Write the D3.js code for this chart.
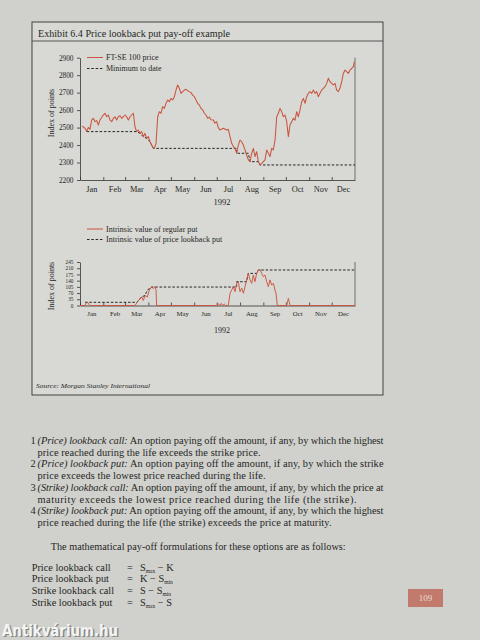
<!DOCTYPE html>
<html><head><meta charset="utf-8">
<script src="https://cdn.jsdelivr.net/npm/d3@7"></script>
<style>
html,body{margin:0;padding:0;background:#d0d1cc;}
svg{display:block;}
</style></head><body>
<svg id="c" width="480" height="640"></svg>
<script>
// ---------- data ----------
const months = ["Jan","Feb","Mar","Apr","May","Jun","Jul","Aug","Sep","Oct","Nov","Dec"];
const yearLabel = "1992";
const priceTicks = [2200,2300,2400,2500,2600,2700,2800,2900];
const putTicks = [0,35,70,105,140,175,210,245];

// FT-SE 100 price: day of year, index value
const priceDays = [3.1,6.7,8.9,11.1,13.3,15.5,17.7,20,22.2,24.4,26.6,31,33.3,35.5,37.7,40,42.2,44.4,46.6,48.8,51,53.2,55.5,57.7,59.9,62.1,64.3,66.6,68.8,71,73.2,75.4,77.6,79.9,82.1,84.3,86.5,88.7,90.9,93.2,95.4,97.6,99.8,101.2,103.4,105.6,107.8,110,112.2,114.5,116.7,118.9,121.1,123.3,125.6,127.8,130,132.2,134.4,136.7,138.9,141.1,143.3,145.5,147.7,150,152.2,154.4,156.6,158.8,161,163.3,165.5,167.7,169.9,172.1,174.4,177.5,179.5,181.9,184,186.3,190.8,195.2,197.4,199.7,201.9,204.1,206.3,208.5,210.7,213,215.2,217.4,219.6,221.8,224.1,226.3,228.5,230.7,232.9,235.1,237.4,239.6,241.8,244,246.2,248.5,250.7,252.9,255.1,257.3,259.6,261.8,264,266.2,268.4,270.7,272.9,275.1,277.3,279.5,281.8,284,286.2,288.4,290.6,292.8,295.1,297.3,299.5,301.7,303.9,306.1,308.4,310.6,312.8,315,317.2,319.4,321.7,323.9,326.1,328.3,330.5,332.8,335,337.2,339.4,341.6,343.8,346,348.3,350.5,352.7,354.9,357.1,359.4,361.6,363.8,365.1];
const priceValues = [2509,2496,2477,2501,2490,2543,2553,2534,2540,2515,2543,2572,2582,2562,2572,2543,2534,2553,2562,2543,2562,2568,2553,2562,2572,2562,2543,2562,2572,2582,2505,2477,2486,2467,2477,2448,2467,2438,2448,2419,2400,2381,2391,2410,2562,2591,2582,2620,2610,2639,2658,2648,2667,2658,2677,2715,2744,2725,2696,2706,2715,2719,2711,2706,2700,2686,2677,2658,2639,2629,2610,2601,2582,2572,2553,2560,2545,2543,2525,2534,2500,2486,2496,2486,2490,2448,2410,2391,2381,2353,2400,2429,2419,2400,2372,2343,2315,2305,2353,2381,2334,2362,2305,2286,2295,2305,2315,2372,2353,2334,2381,2372,2429,2562,2582,2610,2591,2562,2572,2534,2448,2515,2534,2553,2543,2591,2562,2601,2648,2667,2639,2677,2696,2706,2696,2715,2696,2706,2677,2696,2715,2725,2734,2753,2782,2763,2753,2744,2753,2715,2706,2725,2763,2810,2829,2820,2810,2829,2839,2849,2877];

// Minimum to date
const minDays   = [8.9,75.4,79.9,84.3,88.7,93.2,95.4,97.6,208.5,208.5,224.1,226.3,237.4,239.6,366];
const minValues = [2477,2477,2467,2448,2438,2419,2400,2381,2381,2353,2353,2305,2305,2286,2286];

// Intrinsic value of regular put
const putDays   = [0,6.7,8.2,9.8,11.5,13.3,73.2,77.6,82.1,84.3,86.5,89.6,92.3,95.4,97.6,99.8,101.2,102,182,184,186,188,190,192,194,197.4,199.7,201.9,204.1,206.3,208.5,210.7,213,215.2,217.4,219.6,221.8,224,226.3,228.5,230.7,232.9,235.1,237.4,239.6,241.8,244,246.2,248.5,250.7,252.9,255.1,257.3,259.6,260.9,262.6,275.1,277.3,279.5,366];
const putValues = [0,0,12,20,8,0,0,27,49,28,56,48,87,106,95,106,88,0,0,10,0,12,0,8,0,0,69,87,106,78,125,134,78,97,69,106,144,181,144,125,172,134,181,200,203,181,162,172,134,106,144,115,125,87,69,0,0,40,0,0];

// Intrinsic value of price lookback put
const lookDays   = [6.7,75.4,77.6,82.1,86.5,89.6,95.4,208.5,208.5,221.8,224,235.1,237.4,366];
const lookValues = [18,18,27,49,56,87,104,104,134,134,181,181,200,200];

// ---------- drawing ----------
const svg = d3.select("#c");
const red = "#c9553f", ink = "#262626";
const serif = "'Liberation Serif','DejaVu Serif',serif";
const base = new Date(1992,0,1).getTime();
const toDate = d => new Date(base + d*864e5);

// exhibit box
svg.append("rect").attr("x",32).attr("y",22).attr("width",351).attr("height",373)
  .attr("fill","#d8d9d4").attr("stroke","#333").attr("stroke-width",0.9);
svg.append("line").attr("x1",32).attr("x2",383).attr("y1",41).attr("y2",41)
  .attr("stroke","#555").attr("stroke-width",1);
svg.append("text").attr("x",38).attr("y",36.5).attr("font-family",serif).attr("font-size",10.5)
  .attr("fill",ink).attr("textLength",192).attr("lengthAdjust","spacingAndGlyphs")
  .text("Exhibit 6.4  Price lookback put pay-off example");

const x = d3.scaleTime().domain([new Date(1992,0,1), new Date(1993,0,1)]).range([80,355]);
const monthStarts = d3.timeMonth.range(new Date(1992,0,1), new Date(1993,0,1));
const monthMids = months.map((m,i) => new Date(1992,i,16));

function drawPanel(cfg){
  const g = svg.append("g");
  const y = d3.scaleLinear().domain(cfg.domain).range(cfg.range);
  // y axis
  const ya = g.append("g").attr("transform","translate(80,0)")
    .call(d3.axisLeft(y).tickValues(cfg.ticks).tickSize(3).tickSizeOuter(0).tickFormat(d3.format("d")));
  ya.selectAll("text").attr("font-family",serif).attr("font-size",cfg.tickFont).attr("fill",ink).attr("dx",-0.5);
  ya.selectAll("line,path").attr("stroke","#333").attr("stroke-width",0.8);
  // x axis ticks
  const xa = g.append("g").attr("transform",`translate(0,${cfg.range[0]})`)
    .call(d3.axisBottom(x).tickValues(monthStarts).tickSize(-3).tickSizeOuter(0).tickFormat(""));
  xa.selectAll("line,path").attr("stroke","#333").attr("stroke-width",0.8);
  // month labels
  const xl = g.append("g").attr("transform",`translate(0,${cfg.range[0]})`)
    .call(d3.axisBottom(x).tickValues(monthMids).tickSize(0).tickPadding(cfg.labPad).tickFormat(d => months[d.getMonth()]));
  xl.select(".domain").remove();
  xl.selectAll("text").attr("font-family",serif).attr("font-size",cfg.monFont).attr("fill",ink);
  // right frame line
  g.append("line").attr("x1",355).attr("x2",355).attr("y1",cfg.range[1]).attr("y2",cfg.range[0])
    .attr("stroke","#444").attr("stroke-width",0.7);
  // year
  g.append("text").attr("x",222).attr("y",cfg.yearY).attr("text-anchor","middle")
    .attr("font-family",serif).attr("font-size",cfg.yearFont).attr("fill",ink).text(yearLabel);
  // y title
  g.append("text").attr("transform",`translate(${cfg.titleX},${cfg.titleY}) rotate(-90)`)
    .attr("text-anchor","middle").attr("font-family",serif).attr("font-size",8).attr("fill",ink)
    .text("Index of points");
  // lines
  const line = d3.line().x(d => x(toDate(d[0]))).y(d => y(d[1]));
  g.append("path").datum(d3.zip(cfg.dashDays, cfg.dashValues)).attr("d",line)
    .attr("fill","none").attr("stroke","#111").attr("stroke-width",0.9).attr("stroke-dasharray","2.5,1.8");
  g.append("path").datum(d3.zip(cfg.solidDays, cfg.solidValues)).attr("d",line)
    .attr("fill","none").attr("stroke",red).attr("stroke-width",cfg.lineW).attr("stroke-linejoin","round");
  // legend
  const lg = g.append("g");
  lg.append("line").attr("x1",87).attr("x2",103).attr("y1",cfg.legY[0]).attr("y2",cfg.legY[0])
    .attr("stroke",red).attr("stroke-width",1);
  lg.append("line").attr("x1",87).attr("x2",103).attr("y1",cfg.legY[1]).attr("y2",cfg.legY[1])
    .attr("stroke","#111").attr("stroke-width",0.9).attr("stroke-dasharray","2.5,1.8");
  cfg.legText.forEach((t,i) => lg.append("text").attr("x",106).attr("y",cfg.legY[i]+2.8)
    .attr("font-family",serif).attr("font-size",8).attr("fill",ink).text(t));
}

drawPanel({domain:[2200,2900], range:[180,57.7], ticks:priceTicks, tickFont:7.3, monFont:8.3, labPad:6, yearFont:8.5,
  yearY:205, titleX:54, titleY:113, lineW:1.05,
  solidDays:priceDays, solidValues:priceValues, dashDays:minDays, dashValues:minValues,
  legY:[57.5,68.5], legText:["FT-SE 100 price","Minimum to date"]});

drawPanel({domain:[0,245], range:[305.5,262], ticks:putTicks, tickFont:5.3, monFont:6.8, labPad:6, yearFont:8,
  yearY:333, titleX:54, titleY:286, lineW:0.95,
  solidDays:putDays, solidValues:putValues, dashDays:lookDays, dashValues:lookValues,
  legY:[229,239.5], legText:["Intrinsic value of regular put","Intrinsic value of price lookback put"]});

svg.append("text").attr("x",36).attr("y",388).attr("font-family",serif).attr("font-style","italic")
  .attr("font-size",7).attr("fill",ink).attr("textLength",114).attr("lengthAdjust","spacingAndGlyphs")
  .text("Source: Morgan Stanley International");

// body text
const bodyLines = [
  {n:"1", it:"(Price) lookback call:", rest:" An option paying off the amount, if any, by which the highest", w:346},
  {n:"", it:"", rest:"price reached during the life exceeds the strike price.", w:223},
  {n:"2", it:"(Price) lookback put:", rest:" An option paying off the amount, if any, by which the strike", w:346},
  {n:"", it:"", rest:"price exceeds the lowest price reached during the life.", w:228},
  {n:"3", it:"(Strike) lookback call:", rest:" An option paying off the amount, if any, by which the price at", w:346},
  {n:"", it:"", rest:"maturity exceeds the lowest price reached during the life (the strike).", w:319},
  {n:"4", it:"(Strike) lookback put:", rest:" An option paying off the amount, if any, by which the highest", w:346},
  {n:"", it:"", rest:"price reached during the life (the strike) exceeds the price at maturity.", w:294}
];
bodyLines.forEach((L,i) => {
  const yb = 444 + i*11.7;
  if (L.n) svg.append("text").attr("x",30.5).attr("y",yb).attr("font-family",serif).attr("font-size",10.4)
    .attr("fill",ink).text(L.n);
  const t = svg.append("text").attr("x",37.5).attr("y",yb).attr("font-family",serif).attr("font-size",10.4)
    .attr("fill",ink).attr("textLength",L.w).attr("lengthAdjust","spacing");
  if (L.it) t.append("tspan").attr("font-style","italic").text(L.it);
  t.append("tspan").text(L.rest);
});

svg.append("text").attr("x",50.7).attr("y",550).attr("font-family",serif).attr("font-size",10.2)
  .attr("fill",ink).attr("textLength",295).attr("lengthAdjust","spacing")
  .text("The mathematical pay-off formulations for these options are as follows:");

const formulaNames = ["Price lookback call","Price lookback put","Strike lookback call","Strike lookback put"];
const formulaParts = [
  [["S",""],["max","sub"],[" \u2212 K",""]],
  [["K \u2212 S",""],["min","sub"]],
  [["S \u2212 S",""],["min","sub"]],
  [["S",""],["max","sub"],[" \u2212 S",""]]
];
formulaNames.forEach((nm,i) => {
  const yb = 570.5 + i*11.9;
  svg.append("text").attr("x",31.7).attr("y",yb).attr("font-family",serif).attr("font-size",10.3)
    .attr("fill",ink).text(nm);
  svg.append("text").attr("x",127).attr("y",yb).attr("font-family",serif).attr("font-size",10.3)
    .attr("fill",ink).text("=");
  const f = svg.append("text").attr("x",140).attr("y",yb).attr("font-family",serif).attr("font-size",10.3).attr("fill",ink);
  formulaParts[i].forEach(p => {
    const s = f.append("tspan").text(p[0]);
    if (p[1]==="sub") s.attr("font-size",5.5).attr("dy",2);
    else if (f.selectAll("tspan").size()>1) s.attr("dy",-2);
  });
});

// page number
svg.append("rect").attr("x",408).attr("y",589).attr("width",35).attr("height",18).attr("fill","#c27a6c");
svg.append("text").attr("x",425.5).attr("y",601).attr("text-anchor","middle").attr("font-family",serif)
  .attr("font-size",9).attr("fill","#eadcd6").text("109");

// watermark
svg.append("text").attr("x",3.5).attr("y",637).attr("font-family","'DejaVu Sans',sans-serif").attr("font-weight","bold")
  .attr("font-size",16).attr("fill","#777").attr("opacity",0.8).attr("textLength",116).attr("lengthAdjust","spacingAndGlyphs")
  .text("Antikvárium.hu");
svg.append("text").attr("x",2).attr("y",635.5).attr("font-family","'DejaVu Sans',sans-serif").attr("font-weight","bold")
  .attr("font-size",16).attr("fill","#f4f4f2").attr("textLength",116).attr("lengthAdjust","spacingAndGlyphs")
  .text("Antikvárium.hu");
</script>
</body></html>
